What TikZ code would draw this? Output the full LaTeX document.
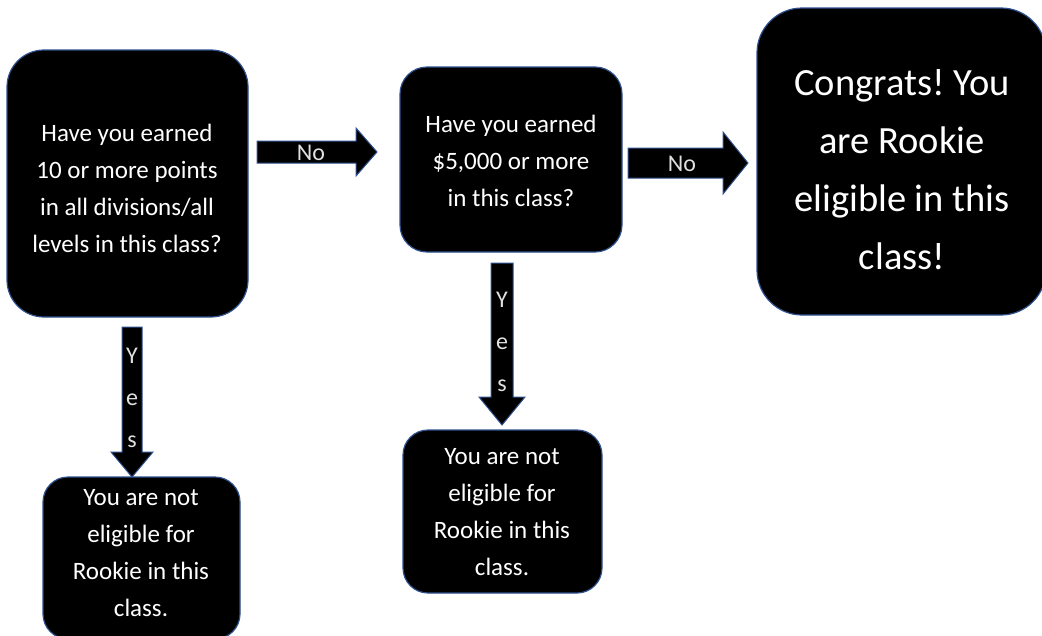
\documentclass[tikz,border=0pt]{standalone}
\usepackage{fontspec}
\setmainfont{Carlito}
\definecolor{edge}{HTML}{2F528F}
\begin{document}
\frenchspacing
\begin{tikzpicture}[x=1pt,y=-1pt,
  box/.style={fill=black,draw=edge,line width=1.2pt},
  txt/.style={text=white,align=center,inner sep=0pt,font=\fontsize{25}{37}\selectfont},
  bigtxt/.style={text=white,align=center,inner sep=0pt,font=\fontsize{38.5}{58}\selectfont},
  lbl/.style={text=white!88!black,align=center,inner sep=0pt,font=\fontsize{24}{42}\selectfont},
  blockarrow/.style={fill=black,draw=edge,line width=1pt,line join=miter}]
\useasboundingbox (0,0) rectangle (1042,635);
% boxes
\draw[box,rounded corners=37pt] (7,50) rectangle (248,317);
\draw[box,rounded corners=27pt] (400,67) rectangle (622,252);
\draw[box,rounded corners=45pt] (757,8) rectangle (1046,315);
\draw[box,rounded corners=25pt] (43,477) rectangle (240,639);
\draw[box,rounded corners=25pt] (403,430) rectangle (602,593);
% texts
\node[txt] (q1) at (127,188) {Have you earned\\10 or more points\\in all divisions/all\\levels in this class?};
\node[txt] (q2) at (511,161) {Have you earned\\\$5,000 or more\\in this class?};
\node[bigtxt] (ok) at (902,170) {Congrats! You\\are Rookie\\eligible in this\\class!};
\node[txt] (ne1) at (141,553) {You are not\\eligible for\\Rookie in this\\class.};
\node[txt] (ne2) at (502,512) {You are not\\eligible for\\Rookie in this\\class.};
% block arrows
\draw[blockarrow] (257,141) -- (356,141) -- (356,128) -- (377,152) -- (356,176) -- (356,163) -- (257,163) -- cycle;
\draw[blockarrow] (628,148) -- (723,148) -- (723,132) -- (748,163) -- (723,194) -- (723,178) -- (628,178) -- cycle;
\draw[blockarrow] (122,327) -- (142,327) -- (142,452) -- (153,452) -- (132,477) -- (111,452) -- (122,452) -- cycle;
\draw[blockarrow] (491,263) -- (513,263) -- (513,397) -- (525,397) -- (502,425) -- (479,397) -- (491,397) -- cycle;
% arrow labels
\node[lbl] (no1) at (311,153) {No};
\node[lbl] (no2) at (682,164) {No};
\node[lbl] (yes1) at (132,398) {Y\\e\\s};
\node[lbl] (yes2) at (502,342) {Y\\e\\s};
\end{tikzpicture}
\end{document}
